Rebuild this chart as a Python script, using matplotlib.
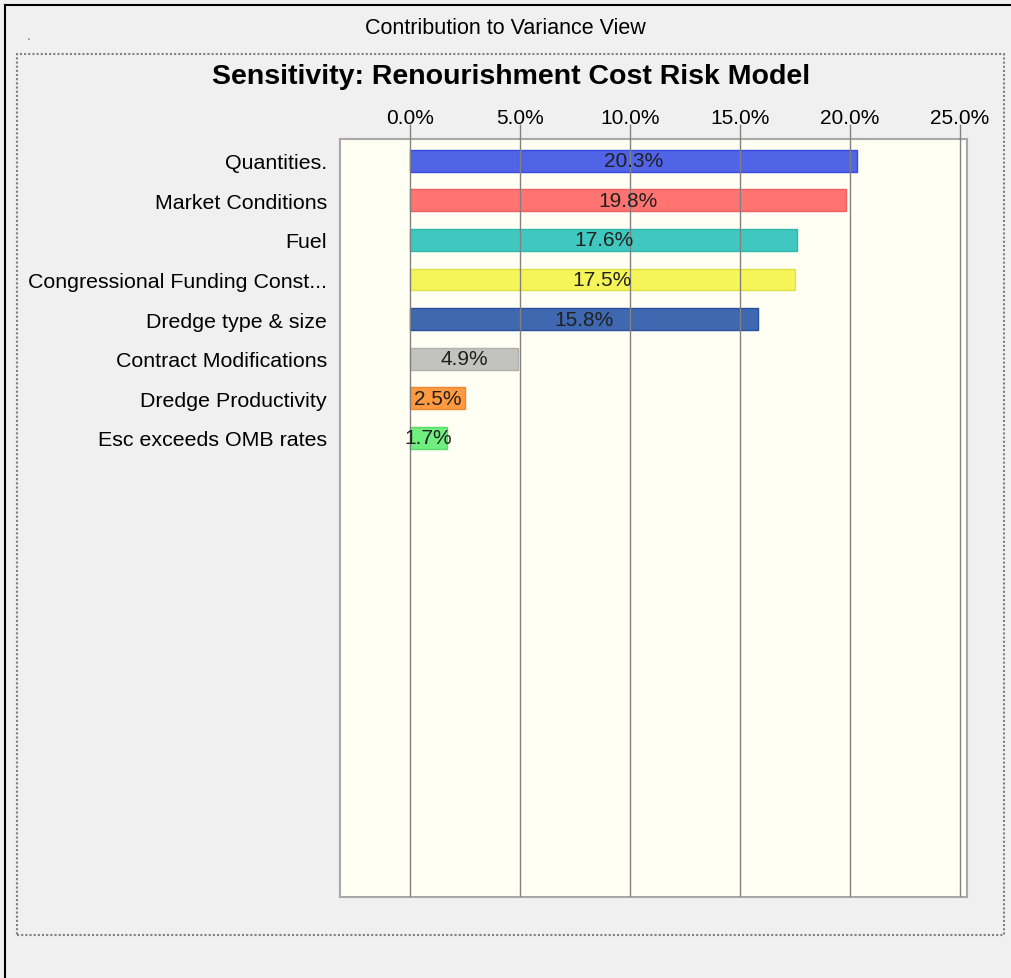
import matplotlib.pyplot as plt
from matplotlib.patches import Rectangle
from matplotlib.lines import Line2D

# data
categories = ["Quantities.", "Market Conditions", "Fuel", "Congressional Funding Const...",
              "Dredge type & size", "Contract Modifications", "Dredge Productivity",
              "Esc exceeds OMB rates"]
values = [20.3, 19.8, 17.6, 17.5, 15.8, 4.9, 2.5, 1.7]
bar_colors = ["#5064e8", "#ff7470", "#40c8c0", "#f5f55a", "#4068b0", "#c2c2be", "#ff9a40", "#70ee80"]
edge_colors = ["#3848e0", "#f06060", "#30b8b0", "#e0e040", "#2850a0", "#b0b0ac", "#f08830", "#58dc68"]
ticks = [0, 5, 10, 15, 20, 25]
tick_labels = ["0.0%", "5.0%", "10.0%", "15.0%", "20.0%", "25.0%"]

plt.rcParams["font.family"] = ["Liberation Sans", "DejaVu Sans"]

W, H = 1011, 979
fig = plt.figure(figsize=(W / 100, H / 100), dpi=100)
fig.patch.set_facecolor("#f0f0f0")

# window border (top and left only) and dotted inner frame
fig.add_artist(Line2D([5 / W, 5 / W], [0, 1 - 6 / H], color="black", lw=1.5, transform=fig.transFigure))
fig.add_artist(Line2D([5 / W, 1], [1 - 6 / H, 1 - 6 / H], color="black", lw=1.5, transform=fig.transFigure))
fig.add_artist(Rectangle((17 / W, 1 - 936 / H), (1004 - 17) / W, (936 - 55) / H,
                         transform=fig.transFigure, fill=False, edgecolor="#808080",
                         lw=1.5, linestyle=(0, (1, 1))))
fig.text(29 / W, 1 - 36 / H, ".", fontsize=10, color="#808080", ha="center", va="center")

fig.text(505 / W, 1 - 29 / H, "Contribution to Variance View", fontsize=15.5, ha="center", va="center")

ax = fig.add_axes([340 / W, 1 - 898 / H, (967 - 340) / W, (898 - 140) / H])
ax.set_facecolor("#fffff4")

y = list(range(len(categories)))
ax.barh(y, values, height=0.55, color=bar_colors, edgecolor=edge_colors, linewidth=1, zorder=2)
for yi, v in zip(y, values):
    ax.text(v / 2, yi, f"{v:.1f}%", ha="center", va="center", fontsize=15, color="#202020", zorder=4)

ax.set_xlim(-3.18, 25.32)
ax.set_ylim(18.6, -0.55)
ax.xaxis.tick_top()
ax.set_xticks(ticks)
ax.set_xticklabels(tick_labels, fontsize=15)
ax.tick_params(axis="x", length=11, width=1, color="#808080", pad=-2)
ax.set_yticks(y)
ax.set_yticklabels(categories, fontsize=15.4)
ax.tick_params(axis="y", length=0, pad=9.4)
ax.grid(axis="x", color="#808080", lw=1, zorder=3)
ax.set_axisbelow(False)
for s in ax.spines.values():
    s.set_color("#a8a8a8")
    s.set_linewidth(1.5)

ax.set_title("Sensitivity: Renourishment Cost Risk Model", fontsize=20.5, fontweight="bold",
             x=(511 - 340) / (967 - 340), pad=40)

fig.savefig("out.png", dpi=100, facecolor=fig.get_facecolor())
